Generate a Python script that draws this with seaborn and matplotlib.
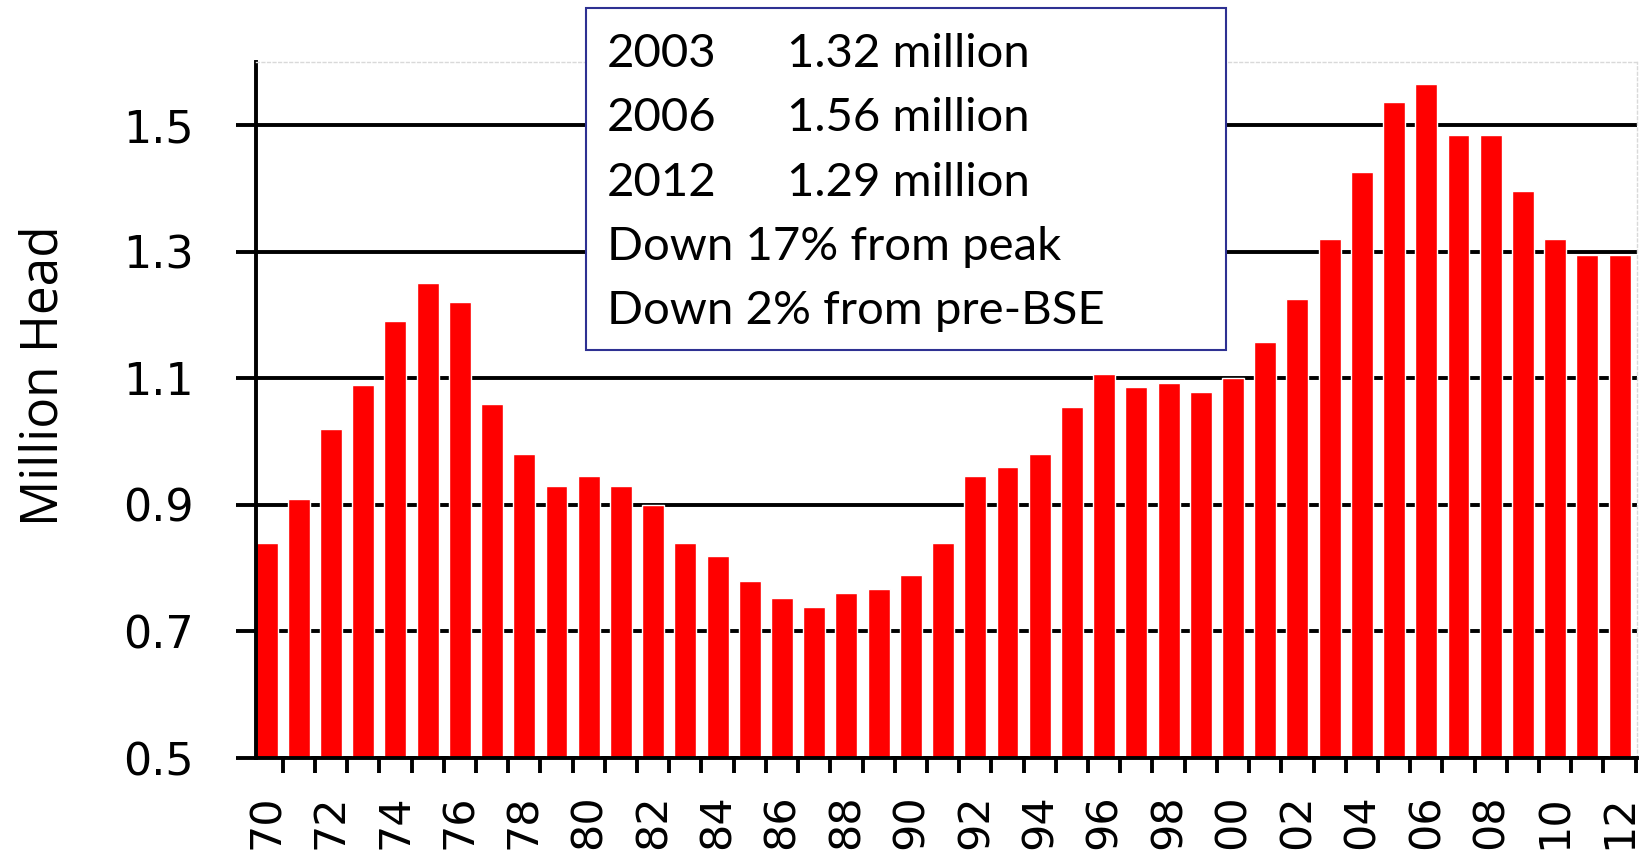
import numpy as np
import pandas as pd
import matplotlib
matplotlib.use('Agg')
import matplotlib.pyplot as plt
from matplotlib.patches import Rectangle
import seaborn as sns

# years 1970..2012 (2-digit labels) and head count in million
years = ['70', '71', '72', '73', '74', '75', '76', '77', '78', '79',
         '80', '81', '82', '83', '84', '85', '86', '87', '88', '89',
         '90', '91', '92', '93', '94', '95', '96', '97', '98', '99',
         '00', '01', '02', '03', '04', '05', '06', '07', '08', '09',
         '10', '11', '12']
head = [0.84, 0.91, 1.02, 1.09, 1.19, 1.25, 1.22, 1.06, 0.98, 0.93,
        0.945, 0.93, 0.90, 0.84, 0.82, 0.78, 0.753, 0.738, 0.76, 0.767,
        0.79, 0.84, 0.945, 0.96, 0.98, 1.055, 1.107, 1.087, 1.093, 1.078,
        1.10, 1.158, 1.225, 1.32, 1.426, 1.537, 1.565, 1.485, 1.485, 1.396,
        1.32, 1.295, 1.295]
yticks = [0.5, 0.7, 0.9, 1.1, 1.3, 1.5]

box_years = ['2003', '2006', '2012']
box_values = ['1.32 million', '1.56 million', '1.29 million']
box_notes = ['Down 17% from peak', 'Down 2% from pre-BSE']

df = pd.DataFrame({'year': years, 'head': head})

sns.set_style('white')
plt.rcParams.update({
    'font.family': ['DejaVu Sans'],
    'text.color': 'black',
    'xtick.color': 'black',
    'ytick.color': 'black',
    'axes.labelcolor': 'black',
    'xtick.bottom': True,
    'ytick.left': True,
    'xtick.direction': 'out',
    'ytick.direction': 'out',
    'xtick.major.size': 0,
    'xtick.minor.size': 11,
    'xtick.minor.width': 2.8,
    'ytick.major.size': 14.5,
    'ytick.major.width': 2.8,
})

W, H = 1644, 851
fig = plt.figure(figsize=(W / 100, H / 100), dpi=100)
ax = fig.add_axes([255.6 / W, 1 - 758 / H, (1637 - 255.6) / W, (758 - 62) / H])

sns.barplot(data=df, x='year', y='head', color='#ff0000', saturation=1,
            width=0.68, ax=ax, zorder=2)

n = len(years)
ax.set_xlim(-0.34, n - 1 + 0.54)
ax.set_ylim(0.5, 1.6)
ax.set_yticks(yticks)
ax.set_yticklabels([f'{v:.1f}' for v in yticks], fontsize=32, family='DejaVu Sans')

# labels on every other bar, tick marks between bars
ax.set_xticks(range(0, n, 2))
ax.set_xticklabels(years[::2], rotation=90, fontsize=31, family='DejaVu Sans')
ax.set_xticks(np.arange(n) + 0.5, minor=True)
ax.tick_params(axis='x', which='major', pad=26)
ax.tick_params(axis='y', which='major', pad=30)

ax.yaxis.grid(True, color='black', linewidth=2.8, zorder=0)
ax.xaxis.grid(False)
ax.set_axisbelow(True)

for s in ['left', 'bottom']:
    ax.spines[s].set_color('black')
    ax.spines[s].set_linewidth(2.8)
for s in ['top', 'right']:
    ax.spines[s].set_color('#d9d9d9')
    ax.spines[s].set_linewidth(1)
    ax.spines[s].set_linestyle((0, (2, 2)))

ax.set_xlabel('')
ax.set_ylabel('Million Head', fontsize=37, family='Open Sans')
ax.yaxis.set_label_coords(-0.135, 0.55)

# annotation box
fig.patches.append(Rectangle((585.6 / W, 1 - 350 / H), (1226 - 585.6) / W, (350 - 8) / H,
                             transform=fig.transFigure, facecolor='white',
                             edgecolor='#2e3192', linewidth=1.5, zorder=5))
lines_y = [67, 131, 196, 260, 324]
for i, (yr, val) in enumerate(zip(box_years, box_values)):
    fig.text(607 / W, 1 - lines_y[i] / H, yr, fontsize=34, family='Lato', zorder=6)
    fig.text(787 / W, 1 - lines_y[i] / H, val, fontsize=34, family='Lato', zorder=6)
for j, note in enumerate(box_notes):
    fig.text(607 / W, 1 - lines_y[3 + j] / H, note, fontsize=34, family='Lato', zorder=6)

fig.savefig('out.png', dpi=100)
